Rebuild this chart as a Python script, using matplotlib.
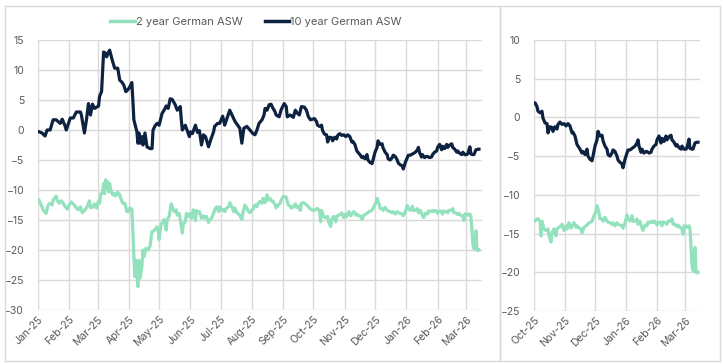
import matplotlib
matplotlib.use("Agg")
import matplotlib.pyplot as plt
import matplotlib.dates as mdates
from matplotlib.patches import Rectangle
import pandas as pd

# ---------------- data ----------------
ten_dates = [
    "2025-01-02","2025-01-05","2025-01-08","2025-01-10","2025-01-13","2025-01-16","2025-01-19","2025-01-23",
    "2025-01-25","2025-01-28","2025-01-29","2025-02-02","2025-02-05","2025-02-08","2025-02-12","2025-02-13",
    "2025-02-16","2025-02-18","2025-02-20","2025-02-22","2025-02-24","2025-02-26","2025-03-02","2025-03-03",
    "2025-03-05","2025-03-07","2025-03-09","2025-03-10","2025-03-12","2025-03-13","2025-03-16","2025-03-18",
    "2025-03-21","2025-03-23","2025-03-25","2025-03-27","2025-03-29","2025-03-31","2025-04-02","2025-04-04",
    "2025-04-05","2025-04-06","2025-04-09","2025-04-10","2025-04-11","2025-04-12","2025-04-14","2025-04-15",
    "2025-04-17","2025-04-19","2025-04-22","2025-04-24","2025-04-25","2025-04-27","2025-04-29","2025-05-01",
    "2025-05-04","2025-05-06","2025-05-08","2025-05-10","2025-05-12","2025-05-14","2025-05-17","2025-05-19",
    "2025-05-22","2025-05-23","2025-05-24","2025-05-27","2025-05-28","2025-05-31","2025-06-01","2025-06-03",
    "2025-06-06","2025-06-08","2025-06-10","2025-06-12","2025-06-14","2025-06-16","2025-06-19","2025-06-21",
    "2025-06-24","2025-06-25","2025-06-28","2025-06-30","2025-07-03","2025-07-05","2025-07-07","2025-07-10",
    "2025-07-13","2025-07-15","2025-07-17","2025-07-20","2025-07-22","2025-07-24","2025-07-27","2025-07-30",
    "2025-08-02","2025-08-04","2025-08-06","2025-08-08","2025-08-11","2025-08-13","2025-08-14","2025-08-16",
    "2025-08-18","2025-08-20","2025-08-21","2025-08-24","2025-08-25","2025-08-28","2025-08-30","2025-09-02",
    "2025-09-04","2025-09-05","2025-09-08","2025-09-11","2025-09-13","2025-09-15","2025-09-17","2025-09-19",
    "2025-09-22","2025-09-24","2025-09-26","2025-09-28",
    "2025-10-02","2025-10-04","2025-10-05","2025-10-07","2025-10-09","2025-10-10","2025-10-12","2025-10-14",
    "2025-10-15","2025-10-17","2025-10-19","2025-10-20","2025-10-22","2025-10-24","2025-10-25","2025-10-27",
    "2025-10-29","2025-10-31","2025-11-02","2025-11-04","2025-11-06","2025-11-08","2025-11-09","2025-11-11",
    "2025-11-13","2025-11-14","2025-11-16","2025-11-18","2025-11-19","2025-11-21","2025-11-23","2025-11-24",
    "2025-11-26","2025-11-28","2025-11-29","2025-12-01","2025-12-03","2025-12-04","2025-12-06","2025-12-08",
    "2025-12-09","2025-12-11","2025-12-13","2025-12-14","2025-12-16","2025-12-18","2025-12-19","2025-12-21",
    "2025-12-23","2025-12-24","2025-12-26","2025-12-28","2025-12-29","2025-12-31","2026-01-02","2026-01-03",
    "2026-01-05","2026-01-07","2026-01-08","2026-01-10","2026-01-12","2026-01-13","2026-01-14","2026-01-16",
    "2026-01-17","2026-01-19","2026-01-21","2026-01-22","2026-01-24","2026-01-26","2026-01-27","2026-01-29",
    "2026-01-31","2026-02-01","2026-02-03","2026-02-05","2026-02-06","2026-02-08","2026-02-10","2026-02-11",
    "2026-02-13","2026-02-15","2026-02-16","2026-02-18","2026-02-20","2026-02-21","2026-02-23","2026-02-25",
    "2026-02-26","2026-02-28","2026-03-02","2026-03-03","2026-03-05","2026-03-06","2026-03-08","2026-03-09",
    "2026-03-11","2026-03-13","2026-03-14",
]
ten_values = [
    -0.3,-0.5,-1.0,0.0,0.0,1.7,1.7,1.1,
    1.8,0.6,0.0,2.0,2.0,3.0,3.0,2.5,
    -0.5,1.7,4.4,2.5,4.3,3.6,4.0,5.6,
    6.4,13.0,12.8,12.2,13.0,13.3,11.4,10.3,
    10.3,8.3,8.0,7.5,6.4,6.7,7.2,7.9,
    5.0,1.7,-0.3,-2.2,-0.5,-2.2,-1.1,-2.5,
    -0.5,-2.8,-3.1,-3.1,0.0,0.7,1.1,0.8,
    2.8,3.3,4.0,3.6,5.2,5.1,4.2,3.3,
    3.9,1.7,0.0,0.8,0.3,-1.1,-0.3,-0.6,
    0.8,-0.4,-0.1,-2.5,-0.8,-1.1,-2.8,-1.7,
    -0.3,0.6,1.1,1.1,2.3,0.8,1.8,3.3,
    2.2,1.5,1.0,0.3,-2.2,0.3,0.6,0.0,
    -0.6,-0.8,0.0,1.1,1.7,2.5,3.6,3.3,
    4.2,4.3,3.9,3.0,2.5,2.2,3.4,4.4,
    3.9,2.2,2.5,2.1,3.3,2.8,2.5,3.9,
    3.8,3.3,2.2,1.7,
    1.9,1.4,0.8,0.6,0.8,-0.1,-0.7,-0.8,
    -2.0,-1.2,-1.3,-1.8,-1.2,-1.5,-0.9,-0.6,
    -0.9,-0.8,-1.1,-0.8,-1.1,-2.0,-1.9,-2.4,
    -3.5,-3.7,-4.1,-4.6,-4.4,-4.8,-4.1,-5.0,
    -5.4,-5.6,-5.0,-3.7,-2.9,-1.8,-2.4,-2.3,
    -3.0,-3.7,-4.1,-4.8,-5.0,-4.6,-4.2,-4.4,
    -5.0,-5.5,-5.8,-6.0,-6.5,-5.4,-4.6,-4.2,
    -4.2,-4.0,-3.9,-3.7,-3.3,-2.9,-3.7,-4.5,
    -4.1,-4.6,-4.4,-4.4,-4.6,-4.5,-4.1,-3.7,
    -3.5,-2.9,-2.4,-3.3,-2.7,-3.1,-2.4,-2.9,
    -2.5,-2.3,-2.9,-3.2,-3.7,-3.5,-3.9,-4.1,
    -3.7,-4.1,-4.1,-3.9,-2.8,-4.0,-4.1,-4.1,
    -3.3,-3.2,-3.2,
]

two_dates = [
    "2025-01-02","2025-01-05","2025-01-06","2025-01-09","2025-01-11","2025-01-13","2025-01-15","2025-01-16",
    "2025-01-19","2025-01-20","2025-01-22","2025-01-24","2025-01-26","2025-01-28","2025-01-30","2025-02-01",
    "2025-02-03","2025-02-06","2025-02-08","2025-02-10","2025-02-12","2025-02-14","2025-02-17","2025-02-19",
    "2025-02-21","2025-02-22","2025-02-24","2025-02-26","2025-02-28","2025-03-02","2025-03-03","2025-03-04",
    "2025-03-06","2025-03-07","2025-03-08","2025-03-09","2025-03-10","2025-03-11","2025-03-12","2025-03-13",
    "2025-03-14","2025-03-16","2025-03-18","2025-03-19","2025-03-21","2025-03-23","2025-03-24","2025-03-26",
    "2025-03-28","2025-03-30","2025-03-31","2025-04-02","2025-04-04","2025-04-05","2025-04-06","2025-04-07",
    "2025-04-08","2025-04-09","2025-04-10","2025-04-11","2025-04-12","2025-04-14","2025-04-15","2025-04-16",
    "2025-04-18","2025-04-20","2025-04-22","2025-04-24","2025-04-25","2025-04-27","2025-04-29","2025-04-30",
    "2025-05-01","2025-05-03","2025-05-05","2025-05-06","2025-05-08","2025-05-09","2025-05-11","2025-05-13",
    "2025-05-14","2025-05-16","2025-05-18","2025-05-19","2025-05-21","2025-05-22","2025-05-24","2025-05-25",
    "2025-05-27","2025-05-28","2025-05-30","2025-06-01","2025-06-02","2025-06-04","2025-06-06","2025-06-07",
    "2025-06-09","2025-06-10","2025-06-12","2025-06-14","2025-06-15","2025-06-17","2025-06-19","2025-06-20",
    "2025-06-22","2025-06-24","2025-06-25","2025-06-27","2025-06-29","2025-06-30","2025-07-02","2025-07-04",
    "2025-07-05","2025-07-07","2025-07-09","2025-07-10","2025-07-12","2025-07-14","2025-07-15","2025-07-17",
    "2025-07-18","2025-07-20","2025-07-22","2025-07-23","2025-07-25","2025-07-27","2025-07-28","2025-07-30",
    "2025-08-01","2025-08-02","2025-08-04","2025-08-06","2025-08-07","2025-08-09","2025-08-11","2025-08-12",
    "2025-08-14","2025-08-16","2025-08-17","2025-08-19","2025-08-21","2025-08-22","2025-08-24","2025-08-25",
    "2025-08-27","2025-08-29","2025-08-30","2025-09-01","2025-09-03","2025-09-04","2025-09-06","2025-09-08",
    "2025-09-09","2025-09-11","2025-09-13","2025-09-14","2025-09-16","2025-09-18","2025-09-19","2025-09-21",
    "2025-09-23","2025-09-24","2025-09-26","2025-09-27","2025-09-29",
    "2025-10-02","2025-10-04","2025-10-05","2025-10-07","2025-10-08","2025-10-09","2025-10-11","2025-10-13",
    "2025-10-15","2025-10-16","2025-10-18","2025-10-19","2025-10-21","2025-10-23","2025-10-24","2025-10-26",
    "2025-10-28","2025-10-29","2025-10-31","2025-11-02","2025-11-03","2025-11-05","2025-11-07","2025-11-08",
    "2025-11-10","2025-11-12","2025-11-13","2025-11-15","2025-11-17","2025-11-18","2025-11-20","2025-11-22",
    "2025-11-23","2025-11-25","2025-11-27","2025-11-28","2025-11-30","2025-12-02","2025-12-03","2025-12-05",
    "2025-12-06","2025-12-08","2025-12-09","2025-12-11","2025-12-13","2025-12-14","2025-12-16","2025-12-18",
    "2025-12-19","2025-12-21","2025-12-23","2025-12-24","2025-12-26","2025-12-28","2025-12-29","2025-12-31",
    "2026-01-02","2026-01-03","2026-01-05","2026-01-07","2026-01-08","2026-01-10","2026-01-12","2026-01-13",
    "2026-01-15","2026-01-17","2026-01-18","2026-01-20","2026-01-22","2026-01-23","2026-01-25","2026-01-27",
    "2026-01-28","2026-01-30","2026-02-01","2026-02-02","2026-02-04","2026-02-06","2026-02-07","2026-02-09",
    "2026-02-11","2026-02-12","2026-02-14","2026-02-16","2026-02-17","2026-02-19","2026-02-21","2026-02-22",
    "2026-02-24","2026-02-26","2026-02-27","2026-02-28","2026-03-02","2026-03-03","2026-03-05","2026-03-06",
    "2026-03-07","2026-03-08","2026-03-09","2026-03-10","2026-03-11","2026-03-12","2026-03-13","2026-03-14",
]
two_values = [
    -11.7,-12.8,-13.3,-13.9,-12.5,-12.2,-12.5,-11.7,
    -11.0,-11.7,-12.2,-11.8,-12.2,-12.8,-13.2,-12.5,
    -12.0,-12.5,-13.0,-13.3,-12.8,-13.8,-13.2,-12.7,
    -11.8,-12.9,-12.9,-12.3,-13.0,-11.8,-12.2,-10.8,
    -10.3,-8.9,-10.6,-8.3,-9.7,-8.6,-10.3,-8.9,
    -10.0,-10.8,-10.6,-11.0,-10.4,-10.8,-11.4,-12.2,
    -12.2,-13.6,-13.6,-13.0,-13.2,-16.7,-21.1,-24.4,
    -21.7,-23.6,-26.1,-21.7,-24.7,-22.8,-20.0,-21.1,
    -19.7,-20.0,-19.4,-16.9,-16.9,-16.6,-16.1,-16.7,
    -18.3,-15.6,-15.4,-14.9,-16.7,-15.0,-14.4,-12.3,
    -12.8,-13.6,-13.3,-14.2,-13.9,-14.9,-17.2,-15.6,
    -15.3,-13.9,-14.4,-13.9,-14.7,-13.3,-15.1,-13.4,
    -13.8,-13.6,-14.7,-14.3,-14.7,-14.4,-15.4,-15.1,
    -14.7,-13.9,-13.3,-12.8,-13.6,-12.8,-13.4,-13.2,
    -13.6,-13.0,-12.8,-12.1,-12.8,-13.6,-13.0,-13.8,
    -13.9,-14.2,-14.9,-13.9,-12.5,-13.0,-13.4,-13.8,
    -13.3,-13.2,-12.5,-12.8,-12.3,-11.9,-12.2,-11.4,
    -12.1,-10.8,-11.7,-11.4,-11.9,-11.9,-12.5,-13.0,
    -12.5,-12.2,-11.7,-11.1,-11.1,-11.2,-12.5,-12.7,
    -13.0,-12.8,-12.3,-12.9,-12.7,-13.4,-12.2,-12.1,
    -12.3,-12.5,-12.8,-13.0,-13.3,
    -13.4,-13.1,-13.1,-13.4,-15.3,-13.4,-14.4,-14.6,
    -14.4,-15.3,-16.1,-14.9,-14.4,-15.3,-14.4,-14.2,
    -14.0,-13.8,-14.6,-14.0,-14.4,-13.6,-14.3,-14.0,
    -13.6,-14.2,-14.0,-14.3,-14.4,-14.9,-14.2,-14.0,
    -13.9,-13.6,-13.5,-13.4,-12.7,-12.1,-11.4,-12.3,
    -13.1,-13.1,-13.4,-12.9,-13.4,-13.5,-13.6,-13.8,
    -13.6,-14.0,-13.6,-13.8,-13.9,-14.0,-14.3,-13.6,
    -12.6,-13.1,-13.4,-12.7,-13.4,-13.4,-13.1,-13.8,
    -13.4,-14.3,-14.6,-13.9,-14.0,-13.5,-13.6,-13.4,
    -13.6,-13.4,-13.9,-13.6,-13.5,-14.0,-13.5,-13.6,
    -13.8,-13.4,-13.4,-13.1,-13.8,-13.8,-14.1,-13.9,
    -14.2,-14.4,-15.1,-14.0,-14.0,-14.2,-14.0,-14.4,
    -16.6,-19.1,-19.8,-19.8,-16.8,-20.0,-20.1,-20.0,
]

series_names = ["2 year German ASW", "10 year German ASW"]
left_yticks = [15, 10, 5, 0, -5, -10, -15, -20, -25, -30]
right_yticks = [10, 5, 0, -5, -10, -15, -20, -25]
left_range = ("2025-01-01", "2026-03-17")
right_range = ("2025-10-01", "2026-03-16")

# ---------------- style ----------------
MINT = "#93e2bd"
NAVY = "#0d2140"
GRID = "#d9d9d9"
TXT = "#595959"
plt.rcParams["font.family"] = ["Inter", "DejaVu Sans"]

two_s = pd.Series(two_values, index=pd.to_datetime(two_dates))
ten_s = pd.Series(ten_values, index=pd.to_datetime(ten_dates))

fig = plt.figure(figsize=(7.23, 3.64), dpi=100)

# panel borders
for (x0, x1) in [(5, 500), (500, 720)]:
    fig.patches.append(Rectangle((x0 / 723, 3 / 364), (x1 - x0) / 723, (358 - 3) / 364,
                                 transform=fig.transFigure, fill=False,
                                 edgecolor=GRID, linewidth=1.0))

ax1 = fig.add_axes([38 / 723, 1 - 310 / 364, 444 / 723, 270 / 364])
ax2 = fig.add_axes([534 / 723, 1 - 311 / 364, 166 / 723, 271 / 364])


def style(ax, yticks, xr):
    ax.plot(two_s.index, two_s.values, color=MINT, lw=2.3, label=series_names[0], zorder=3)
    ax.plot(ten_s.index, ten_s.values, color=NAVY, lw=2.3, label=series_names[1], zorder=4)
    ax.set_ylim(min(yticks), max(yticks))
    ax.set_yticks(yticks)
    ax.set_xlim(pd.Timestamp(xr[0]), pd.Timestamp(xr[1]))
    ax.xaxis.set_major_locator(mdates.MonthLocator())
    ax.xaxis.set_major_formatter(mdates.DateFormatter("%b-%y"))
    ax.grid(True, color=GRID, lw=1.0)
    ax.set_axisbelow(True)
    for s in ax.spines.values():
        s.set_visible(False)
    ax.tick_params(axis="both", length=0, labelsize=7.5, labelcolor=TXT)
    ax.tick_params(axis="y", pad=10)
    ax.tick_params(axis="x", pad=3)
    for lab in ax.get_xticklabels():
        lab.set_rotation(45)
        lab.set_ha("right")
        lab.set_rotation_mode("anchor")


style(ax1, left_yticks, left_range)
style(ax2, right_yticks, right_range)

leg = ax1.legend(loc="center", bbox_to_anchor=(256 / 723, 1 - 22 / 364),
                 bbox_transform=fig.transFigure, ncol=2, frameon=False,
                 fontsize=8, handlelength=2.2, handletextpad=0.1, columnspacing=2.0)
for t in leg.get_texts():
    t.set_color(TXT)
for h in leg.get_lines():
    h.set_linewidth(2.5)

fig.savefig("out.png", dpi=100)
